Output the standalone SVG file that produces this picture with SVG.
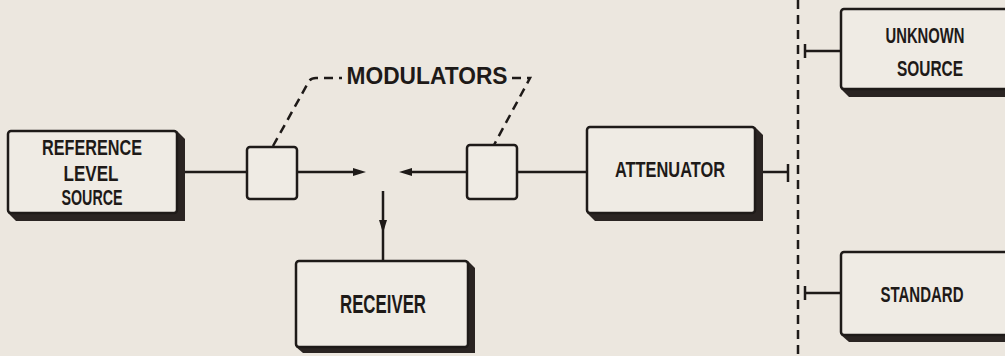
<svg xmlns="http://www.w3.org/2000/svg" width="1005" height="356" viewBox="0 0 1005 356">
<style>
.box{fill:#efebe4;stroke:#1e1a18;stroke-width:2.5}
.shadow{fill:#2a2422}
.ln{stroke:#1e1a18;stroke-width:2.5;fill:none}
.dash{stroke:#1e1a18;stroke-width:2.5;fill:none;stroke-dasharray:9 6}
.ah{fill:#1e1a18}
text{font-family:"Liberation Sans",Arial,sans-serif;font-weight:bold;fill:#1e1a18;text-anchor:middle}
.t{font-size:22px}
</style>
<rect width="1005" height="356" fill="#ece7df"/>
<g id="connectors">
<line class="ln" x1="184" y1="172" x2="247" y2="172"/>
<line class="ln" x1="297" y1="172" x2="358" y2="172"/>
<polygon class="ah" points="366,172 353,168 353,176"/>
<line class="ln" x1="407" y1="172" x2="467" y2="172"/>
<polygon class="ah" points="399,172 412,168 412,176"/>
<line class="ln" x1="517" y1="172" x2="587" y2="172"/>
<line class="ln" x1="383" y1="191" x2="383" y2="261"/>
<polygon class="ah" points="383,233 379,220 387,220"/>
<line class="ln" x1="763" y1="172" x2="788" y2="172"/>
<line class="ln" x1="788" y1="164" x2="788" y2="182"/>
<line class="ln" x1="805" y1="51" x2="841" y2="51"/>
<line class="ln" x1="805" y1="44" x2="805" y2="58"/>
<line class="ln" x1="805" y1="293" x2="841" y2="293"/>
<line class="ln" x1="805" y1="286" x2="805" y2="300"/>
<line class="dash" x1="798" y1="0" x2="798" y2="356"/>
<path class="dash" d="M273,146 L308,83 Q310,78 316,78 L342,78" stroke-dasharray="8 6"/>
<path class="dash" d="M512,78 L530,78 L494,145" stroke-dasharray="8 6"/>
</g>
<g id="label-modulators">
<text x="427" y="84" font-size="23" textLength="161" lengthAdjust="spacingAndGlyphs">MODULATORS</text>
</g>
<g id="reference-level-source">
<polygon class="shadow" points="177,131 185,139 185,221 16,221 8,213"/>
<rect class="box" x="8" y="131" width="169" height="82" rx="3"/>
<text class="t" x="92" y="155" textLength="100" lengthAdjust="spacingAndGlyphs">REFERENCE</text>
<text class="t" x="91" y="181" textLength="55" lengthAdjust="spacingAndGlyphs">LEVEL</text>
<text class="t" x="92" y="205" textLength="61" lengthAdjust="spacingAndGlyphs">SOURCE</text>
</g>
<g id="modulator-1">
<rect class="box" x="247" y="147" width="50" height="52" rx="3"/>
</g>
<g id="modulator-2">
<rect class="box" x="467" y="145" width="50" height="54" rx="3"/>
</g>
<g id="attenuator">
<polygon class="shadow" points="755,127 763,135 763,221 595,221 587,213"/>
<rect class="box" x="587" y="127" width="168" height="86" rx="3"/>
<text class="t" x="670" y="177" textLength="110" lengthAdjust="spacingAndGlyphs">ATTENUATOR</text>
</g>
<g id="receiver">
<polygon class="shadow" points="468,261 475,268 475,353 303,353 296,347"/>
<rect class="box" x="296" y="261" width="172" height="86" rx="3"/>
<text x="383" y="313" font-size="25" textLength="86" lengthAdjust="spacingAndGlyphs">RECEIVER</text>
</g>
<g id="unknown-source">
<polygon class="shadow" points="841,89 849,97 1010,97 1010,89"/>
<rect class="box" x="841" y="9" width="180" height="80" rx="3"/>
<text class="t" x="925" y="43" textLength="79" lengthAdjust="spacingAndGlyphs">UNKNOWN</text>
<text class="t" x="930" y="76" textLength="66" lengthAdjust="spacingAndGlyphs">SOURCE</text>
</g>
<g id="standard">
<polygon class="shadow" points="841,335 849,342 1010,342 1010,335"/>
<rect class="box" x="841" y="252" width="180" height="83" rx="3"/>
<text class="t" x="922" y="302" textLength="83" lengthAdjust="spacingAndGlyphs">STANDARD</text>
</g>
</svg>
